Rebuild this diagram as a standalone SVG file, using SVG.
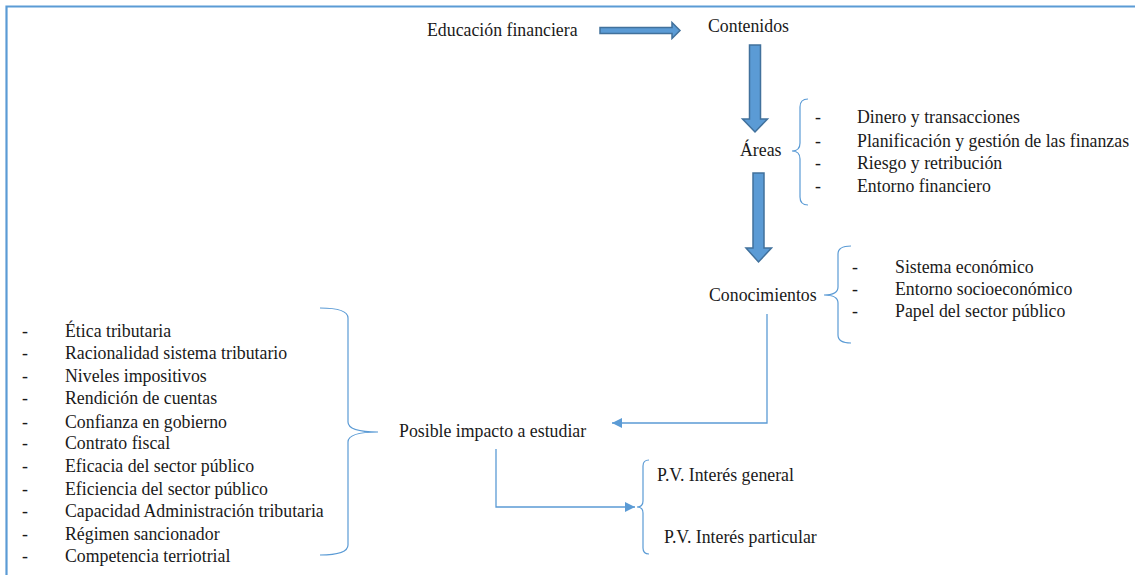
<svg xmlns="http://www.w3.org/2000/svg" width="1135" height="575" viewBox="0 0 1135 575">
<style>
.t{font-family:'Liberation Serif','DejaVu Serif',serif;font-size:17.8px;fill:#1a1a1a}
.br{fill:none;stroke:#5b9bd5;stroke-width:1.2}
.ln{fill:none;stroke:#5b9bd5;stroke-width:1.3}
.blk{fill:#5b9bd5;stroke:#41719c;stroke-width:1.5}
</style>
<defs>
<marker id="tri" viewBox="0 0 10 10" refX="10" refY="5" markerWidth="10" markerHeight="10" markerUnits="userSpaceOnUse" orient="auto">
<path d="M0,0 L10,5 L0,10 z" fill="#5b9bd5"/>
</marker>
</defs>
<rect width="1135" height="575" fill="#fff"/>
<path d="M6.5,575 L6.5,6.5 L1135,6.5" fill="none" stroke="#5b9bd5" stroke-width="2.2"/>

<g id="connectors">
<path class="blk" d="M600,27.5 L672,27.5 L672,22.5 L680,30.5 L672,38.5 L672,33.5 L600,33.5 Z"/>
<path class="blk" d="M749.5,45 L760.5,45 L760.5,119 L767.5,119 L755,132 L742.5,119 L749.5,119 Z"/>
<path class="blk" d="M753,173 L764,173 L764,248 L771.5,248 L758.5,262 L746,248 L753,248 Z"/>
<path class="ln" d="M767,314 L767,423 L612,423" marker-end="url(#tri)"/>
<path class="ln" d="M496,449 L496,507 L635,507" marker-end="url(#tri)"/>
</g>

<g class="t" font-family="'Liberation Serif','DejaVu Serif',serif">
<g id="educacion"><text x="427" y="36">Educación financiera</text></g>
<g id="contenidos"><text x="708" y="32">Contenidos</text></g>

<g id="areas">
<text x="740" y="156">Áreas</text>
<text x="815" y="123">-</text><text x="857" y="123">Dinero y transacciones</text>
<text x="815" y="147">-</text><text x="857" y="147">Planificación y gestión de las finanzas</text>
<text x="815" y="169">-</text><text x="857" y="169">Riesgo y retribución</text>
<text x="815" y="192">-</text><text x="857" y="192">Entorno financiero</text>
</g>

<g id="conocimientos">
<text x="709" y="301">Conocimientos</text>
<text x="852" y="273">-</text><text x="895" y="273">Sistema económico</text>
<text x="852" y="295">-</text><text x="895" y="295">Entorno socioeconómico</text>
<text x="852" y="317">-</text><text x="895" y="317">Papel del sector público</text>
</g>

<g id="impacto">
<text x="399" y="437">Posible impacto a estudiar</text>
<text x="22" y="337">-</text><text x="65" y="337">Ética tributaria</text>
<text x="22" y="359">-</text><text x="65" y="359">Racionalidad sistema tributario</text>
<text x="22" y="382">-</text><text x="65" y="382">Niveles impositivos</text>
<text x="22" y="404">-</text><text x="65" y="404">Rendición de cuentas</text>
<text x="22" y="428">-</text><text x="65" y="428">Confianza en gobierno</text>
<text x="22" y="449">-</text><text x="65" y="449">Contrato fiscal</text>
<text x="22" y="472">-</text><text x="65" y="472">Eficacia del sector público</text>
<text x="22" y="495">-</text><text x="65" y="495">Eficiencia del sector público</text>
<text x="22" y="517">-</text><text x="65" y="517">Capacidad Administración tributaria</text>
<text x="22" y="540">-</text><text x="65" y="540">Régimen sancionador</text>
<text x="22" y="562">-</text><text x="65" y="562">Competencia terriotrial</text>
</g>

<g id="pv">
<text x="657" y="481">P.V. Interés general</text>
<text x="664" y="543">P.V. Interés particular</text>
</g>
</g>

<g id="braces">
<path class="br" d="M808,99 Q800,99 800,107 L800,143 Q800,151 792,151 Q800,151 800,159 L800,197 Q800,205 808,205"/>
<path class="br" d="M851,246 Q838,246 838,254 L838,287 Q838,295 824,295 Q838,295 838,303 L838,335 Q838,343 851,343"/>
<path class="br" d="M320,308 Q348,308 348,318 L348,422 Q348,432 378,432 Q348,432 348,442 L348,545 Q348,555 320,555"/>
<path class="br" d="M649,460 Q643,460 643,466 L643,501 Q643,507 637,507 Q643,507 643,513 L643,548 Q643,554 649,554"/>
</g>
</svg>
